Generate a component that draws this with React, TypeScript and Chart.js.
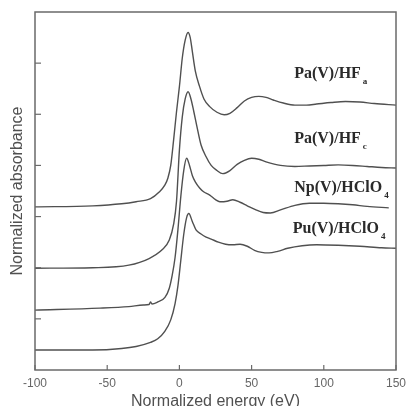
import React, { useEffect, useRef } from "react";
import { Chart, registerables } from "chart.js";

Chart.register(...registerables);

// Pa(V)/HF_a
const energy1 = [-100, -60, -40, -30, -20, -14, -10, -8, -6, -4, -2, 0, 2, 4, 6, 7.5, 9, 11, 14, 17, 21, 26, 31, 35, 40, 45, 50, 55, 60, 65, 72, 80, 88, 95, 105, 115, 125, 135, 150];
const abs1 = [3.19, 3.21, 3.25, 3.29, 3.35, 3.48, 3.62, 3.75, 4.0, 4.5, 5.05, 5.54, 6.1, 6.45, 6.6, 6.5, 6.22, 5.85, 5.54, 5.3, 5.15, 5.04, 4.99, 5.02, 5.13, 5.26, 5.33, 5.35, 5.33, 5.28, 5.22, 5.18, 5.18, 5.2, 5.23, 5.25, 5.24, 5.21, 5.18];

// Pa(V)/HF_c
const energy2 = [-100, -60, -35, -21, -12, -7, -4, -2, 0, 2, 4, 6, 8, 10, 12, 15, 18.5, 22, 26, 30, 35, 40, 45, 50, 55, 60, 70, 80, 90, 100, 110, 120, 130, 140, 150];
const abs2 = [1.99, 2.0, 2.05, 2.18, 2.35, 2.54, 2.85, 3.3, 4.3, 4.95, 5.3, 5.44, 5.3, 5.05, 4.78, 4.4, 4.17, 4.0, 3.9, 3.84, 3.9, 4.02, 4.1, 4.14, 4.12, 4.07, 4.0, 3.98, 3.99, 4.0, 4.01, 4.0, 3.98, 3.96, 3.95];

// Np(V)/HClO4
const energy3 = [-100, -55, -35, -25, -21, -20, -19, -15, -10, -7, -5, -3, -1, 1, 3, 5, 7, 9, 11, 14, 17, 21, 25, 28, 33, 37, 42, 47, 53, 58, 63, 70, 80, 90, 100, 110, 120, 130, 145];
const abs3 = [1.17, 1.21, 1.24, 1.27, 1.28, 1.33, 1.29, 1.33, 1.42, 1.6, 1.85, 2.2, 2.75, 3.4, 3.9, 4.14, 4.0, 3.8, 3.68, 3.56, 3.48, 3.42, 3.33, 3.29, 3.3, 3.33, 3.28, 3.21, 3.13, 3.08, 3.07, 3.13, 3.22, 3.26, 3.26, 3.25, 3.23, 3.2, 3.17];

// Pu(V)/HClO4
const energy4 = [-100, -60, -40, -30, -20, -15, -10, -6, -3, -1, 1, 3, 5, 6.5, 9, 11.5, 15, 18.5, 22, 27, 32, 37, 42, 47, 52, 57, 62, 68, 75, 85, 95, 110, 125, 140, 150];
const abs4 = [0.39, 0.39, 0.42, 0.46, 0.54, 0.61, 0.76, 0.98, 1.3, 1.65, 2.15, 2.65, 2.98, 3.06, 2.9, 2.74, 2.66, 2.6, 2.56, 2.5, 2.46, 2.45, 2.46, 2.42, 2.34, 2.3, 2.29, 2.32, 2.38, 2.43, 2.45, 2.44, 2.42, 2.39, 2.38];

const xTicks = [-100, -50, 0, 50, 100, 150];
const yTicks = [1, 2, 3, 4, 5, 6];

const labelNames = ["Pa(V)/HF", "Pa(V)/HF", "Np(V)/HClO", "Pu(V)/HClO"];
const labelSubs = ["a", "c", "4", "4"];
const labelEnergy = [79.5, 79.5, 79.5, 78.5];
const labelLevel = [5.71, 4.44, 3.48, 2.68];

const series = [
  { e: energy1, a: abs1 },
  { e: energy2, a: abs2 },
  { e: energy3, a: abs3 },
  { e: energy4, a: abs4 },
];

const decorPlugin = {
  id: "decor",
  afterDraw(chart: any) {
    const { ctx, chartArea, scales } = chart;
    const xs = scales.x;
    const ys = scales.y;
    ctx.save();
    ctx.strokeStyle = "#6a6a6a";
    ctx.lineWidth = 1.5;
    ctx.strokeRect(chartArea.left, chartArea.top, chartArea.right - chartArea.left, chartArea.bottom - chartArea.top);
    ctx.lineWidth = 1.2;
    for (const t of xTicks) {
      const px = xs.getPixelForValue(t);
      ctx.beginPath();
      ctx.moveTo(px, chartArea.bottom);
      ctx.lineTo(px, chartArea.bottom - 5);
      ctx.stroke();
    }
    for (const t of yTicks) {
      const py = ys.getPixelForValue(t);
      ctx.beginPath();
      ctx.moveTo(chartArea.left, py);
      ctx.lineTo(chartArea.left + 6, py);
      ctx.stroke();
    }
    ctx.fillStyle = "#2a2a2a";
    ctx.textBaseline = "alphabetic";
    ctx.textAlign = "left";
    for (let i = 0; i < labelNames.length; i++) {
      const px = xs.getPixelForValue(labelEnergy[i]);
      const py = ys.getPixelForValue(labelLevel[i]);
      ctx.font = "bold 16px 'Liberation Serif'";
      ctx.fillText(labelNames[i], px, py);
      const w = ctx.measureText(labelNames[i]).width;
      ctx.font = "bold 9px 'Liberation Serif'";
      ctx.fillText(labelSubs[i], px + w + 2, py + 6);
    }
    ctx.restore();
  },
};

export default function App() {
  const ref = useRef<HTMLCanvasElement>(null);
  useEffect(() => {
    if (!ref.current) return;
    const chart = new Chart(ref.current, {
      type: "line",
      data: {
        datasets: series.map((s) => ({
          data: s.e.map((x, i) => ({ x, y: s.a[i] })),
          borderColor: "#505050",
          borderWidth: 1.4,
          pointRadius: 0,
          fill: false,
          cubicInterpolationMode: "monotone" as const,
        })),
      },
      options: {
        responsive: false,
        animation: false,
        devicePixelRatio: 1,
        layout: { padding: { left: 0, right: 10, top: 12, bottom: 0 } },
        plugins: { legend: { display: false }, tooltip: { enabled: false } },
        scales: {
          x: {
            type: "linear",
            min: -100,
            max: 150,
            afterFit: (s: any) => {
              s.height = 36;
              s.paddingLeft = 0;
              s.paddingRight = 0;
            },
            afterBuildTicks: (s: any) => {
              s.ticks = xTicks.map((v) => ({ value: v }));
            },
            ticks: {
              color: "#666",
              font: { family: "'Liberation Sans'", size: 12 },
              padding: 6,
              maxRotation: 0,
            },
            grid: { display: false, drawTicks: false },
            border: { display: false },
            title: {
              display: true,
              text: "Normalized energy (eV)",
              color: "#505050",
              font: { family: "'Liberation Sans'", size: 16, lineHeight: 0.6 },
              padding: { top: 0, bottom: 0 },
            },
          },
          y: {
            type: "linear",
            min: 0,
            max: 7,
            afterFit: (s: any) => {
              s.width = 35;
              s.paddingTop = 0;
              s.paddingBottom = 0;
            },
            ticks: { display: false },
            grid: { display: false, drawTicks: false },
            border: { display: false },
            title: {
              display: true,
              text: "Normalized absorbance",
              color: "#505050",
              font: { family: "'Liberation Sans'", size: 16, lineHeight: 1 },
              padding: { top: 10, bottom: 0 },
            },
          },
        },
      },
      plugins: [decorPlugin],
    });
    return () => chart.destroy();
  }, []);
  return (
    <div style={{ position: "fixed", left: 0, top: 0, width: 406, height: 406, background: "#fff" }}>
      <canvas ref={ref} width={406} height={406} />
    </div>
  );
}
